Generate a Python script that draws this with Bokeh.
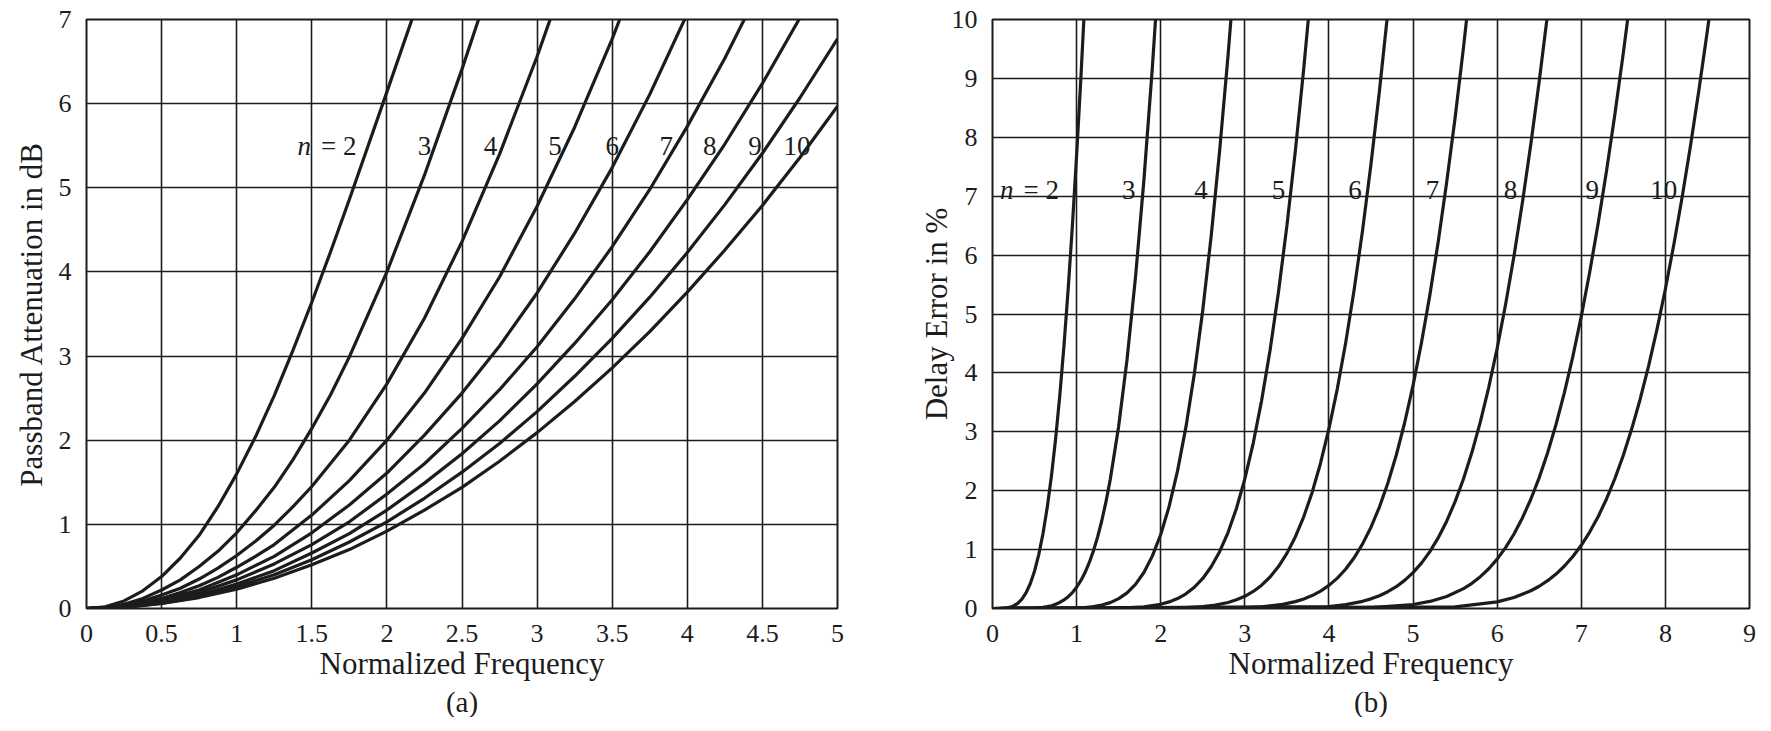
from bokeh.plotting import figure
from bokeh.layouts import row
from bokeh.models import FixedTicker, Title
from bokeh.core.properties import value
from bokeh.embed import file_html
from bokeh.resources import INLINE

FONT = "Liberation Serif"
INK = "#1c1c1c"

# ---------------- (a) Passband attenuation (dB) vs normalized frequency ----------------
att_freq_n2 = [0, 0.125, 0.25, 0.375, 0.5, 0.625, 0.75, 0.875, 1.0, 1.125, 1.25, 1.375, 1.5, 1.625, 1.75, 1.875, 2.0, 2.25]
att_db_n2 = [0, 0.02, 0.09, 0.21, 0.38, 0.60, 0.87, 1.21, 1.60, 2.04, 2.53, 3.07, 3.64, 4.24, 4.86, 5.50, 6.14, 7.43]
att_freq_n3 = [0, 0.125, 0.25, 0.375, 0.5, 0.625, 0.75, 0.875, 1.0, 1.125, 1.25, 1.375, 1.5, 1.625, 1.75, 2.0, 2.25, 2.5, 2.75]
att_db_n3 = [0, 0.01, 0.05, 0.12, 0.22, 0.34, 0.50, 0.68, 0.90, 1.16, 1.44, 1.77, 2.14, 2.54, 2.99, 4.00, 5.15, 6.41, 7.75]
att_freq_n4 = [0, 0.125, 0.25, 0.375, 0.5, 0.625, 0.75, 0.875, 1.0, 1.125, 1.25, 1.375, 1.5, 1.75, 2.0, 2.25, 2.5, 2.75, 3.0, 3.25]
att_db_n4 = [0, 0.01, 0.04, 0.09, 0.16, 0.24, 0.35, 0.48, 0.63, 0.80, 0.99, 1.21, 1.45, 2.00, 2.67, 3.45, 4.36, 5.40, 6.56, 7.83]
att_freq_n5 = [0, 0.25, 0.375, 0.5, 0.625, 0.75, 0.875, 1.0, 1.125, 1.25, 1.5, 1.75, 2.0, 2.25, 2.5, 2.75, 3.0, 3.25, 3.5, 3.75]
att_db_n5 = [0, 0.03, 0.07, 0.12, 0.19, 0.27, 0.37, 0.49, 0.62, 0.76, 1.11, 1.52, 2.00, 2.56, 3.21, 3.94, 4.78, 5.72, 6.77, 7.93]
att_freq_n6 = [0, 0.25, 0.5, 0.75, 1.0, 1.25, 1.5, 1.75, 2.0, 2.25, 2.5, 2.75, 3.0, 3.25, 3.5, 3.75, 4.0, 4.25]
att_db_n6 = [0, 0.02, 0.10, 0.22, 0.40, 0.62, 0.90, 1.23, 1.61, 2.06, 2.56, 3.12, 3.75, 4.46, 5.24, 6.11, 7.07, 8.12]
att_freq_n7 = [0, 0.25, 0.5, 0.75, 1.0, 1.25, 1.5, 1.75, 2.0, 2.25, 2.5, 2.75, 3.0, 3.25, 3.5, 3.75, 4.0, 4.25, 4.5]
att_db_n7 = [0, 0.02, 0.08, 0.19, 0.34, 0.53, 0.76, 1.03, 1.36, 1.72, 2.14, 2.60, 3.11, 3.68, 4.30, 4.98, 5.73, 6.54, 7.43]
att_freq_n8to10 = [0, 0.25, 0.5, 0.75, 1.0, 1.25, 1.5, 1.75, 2.0, 2.25, 2.5, 2.75, 3.0, 3.25, 3.5, 3.75, 4.0, 4.25, 4.5, 4.75, 5.0]
att_db_n8 = [0, 0.02, 0.07, 0.16, 0.29, 0.45, 0.66, 0.89, 1.17, 1.49, 1.84, 2.23, 2.67, 3.15, 3.67, 4.24, 4.86, 5.52, 6.24, 7.02, 7.86]
att_db_n9 = [0, 0.02, 0.06, 0.14, 0.26, 0.40, 0.58, 0.79, 1.03, 1.31, 1.62, 1.96, 2.34, 2.76, 3.21, 3.70, 4.23, 4.80, 5.41, 6.07, 6.77]
att_db_n10 = [0, 0.01, 0.06, 0.13, 0.23, 0.36, 0.52, 0.70, 0.92, 1.17, 1.44, 1.75, 2.09, 2.46, 2.86, 3.29, 3.76, 4.26, 4.79, 5.36, 5.97]

a_xticks = [0, 0.5, 1, 1.5, 2, 2.5, 3, 3.5, 4, 4.5, 5]
a_xtick_labels = ["0", "0.5", "1", "1.5", "2", "2.5", "3", "3.5", "4", "4.5", "5"]
a_yticks = [0, 1, 2, 3, 4, 5, 6, 7]
a_ytick_labels = ["0", "1", "2", "3", "4", "5", "6", "7"]

# ---------------- (b) Delay error (%) vs normalized frequency ----------------
dly_freq_n2 = [0, 0.1, 0.15, 0.2, 0.25, 0.3, 0.35, 0.4, 0.45, 0.5, 0.55, 0.6, 0.65, 0.7, 0.75, 0.8, 0.85, 0.9, 0.95, 1.0, 1.05, 1.1]
dly_err_n2 = [0, 0.001, 0.006, 0.018, 0.043, 0.087, 0.160, 0.269, 0.425, 0.637, 0.915, 1.269, 1.709, 2.242, 2.875, 3.615, 4.466, 5.429, 6.505, 7.692, 8.988, 10.39]
dly_freq_n3 = [0, 0.5, 0.6, 0.65, 0.7, 0.75, 0.8, 0.85, 0.9, 0.95, 1.0, 1.05, 1.1, 1.15, 1.2, 1.25, 1.3, 1.35, 1.4, 1.5, 1.6, 1.7, 1.8, 1.9, 2.0]
dly_err_n3 = [0, 0.007, 0.019, 0.031, 0.047, 0.071, 0.102, 0.145, 0.200, 0.271, 0.361, 0.473, 0.611, 0.778, 0.978, 1.216, 1.494, 1.818, 2.190, 3.095, 4.233, 5.623, 7.271, 9.176, 11.33]
dly_freq_n4 = [0, 1.0, 1.1, 1.2, 1.3, 1.4, 1.5, 1.6, 1.7, 1.8, 1.9, 2.0, 2.1, 2.2, 2.3, 2.4, 2.5, 2.6, 2.7, 2.8, 2.9]
dly_err_n4 = [0, 0.008, 0.016, 0.032, 0.058, 0.100, 0.167, 0.266, 0.410, 0.612, 0.889, 1.256, 1.732, 2.336, 3.083, 3.990, 5.068, 6.325, 7.764, 9.382, 11.17]
dly_freq_n5 = [0, 1.5, 1.8, 2.0, 2.1, 2.2, 2.3, 2.4, 2.5, 2.6, 2.7, 2.8, 2.9, 3.0, 3.1, 3.2, 3.3, 3.4, 3.5, 3.6, 3.7, 3.8]
dly_err_n5 = [0, 0.005, 0.028, 0.072, 0.112, 0.169, 0.250, 0.361, 0.510, 0.708, 0.964, 1.290, 1.698, 2.200, 2.809, 3.534, 4.386, 5.372, 6.496, 7.760, 9.163, 10.70]
dly_freq_n6 = [0, 2.0, 2.25, 2.5, 2.65, 2.8, 2.9, 3.0, 3.1, 3.2, 3.3, 3.4, 3.5, 3.6, 3.7, 3.8, 3.9, 4.0, 4.1, 4.2, 4.3, 4.4, 4.5, 4.6, 4.7]
dly_err_n6 = [0, 0.003, 0.010, 0.031, 0.057, 0.102, 0.147, 0.207, 0.289, 0.396, 0.535, 0.712, 0.936, 1.215, 1.557, 1.971, 2.467, 3.052, 3.734, 4.521, 5.416, 6.424, 7.546, 8.781, 10.13]
dly_freq_n7 = [0, 3.0, 3.2, 3.45, 3.6, 3.7, 3.8, 3.9, 4.0, 4.1, 4.2, 4.3, 4.4, 4.5, 4.6, 4.7, 4.8, 4.9, 5.0, 5.1, 5.2, 5.3, 5.4, 5.5, 5.6, 5.7]
dly_err_n7 = [0, 0.013, 0.028, 0.071, 0.117, 0.162, 0.220, 0.296, 0.393, 0.516, 0.671, 0.862, 1.097, 1.381, 1.722, 2.127, 2.602, 3.154, 3.788, 4.511, 5.325, 6.234, 7.239, 8.333, 9.532, 10.82]
dly_freq_n8 = [0, 4.0, 4.2, 4.4, 4.5, 4.6, 4.7, 4.8, 4.9, 5.0, 5.1, 5.2, 5.3, 5.4, 5.5, 5.6, 5.7, 5.8, 5.9, 6.0, 6.1, 6.2, 6.3, 6.4, 6.5, 6.6]
dly_err_n8 = [0, 0.034, 0.066, 0.122, 0.164, 0.217, 0.285, 0.370, 0.477, 0.609, 0.770, 0.966, 1.202, 1.483, 1.814, 2.202, 2.651, 3.168, 3.756, 4.419, 5.162, 5.986, 6.892, 7.881, 8.951, 10.10]
dly_freq_n9 = [0, 4.5, 5.0, 5.2, 5.4, 5.6, 5.7, 5.8, 5.9, 6.0, 6.1, 6.2, 6.3, 6.4, 6.5, 6.6, 6.7, 6.8, 6.9, 7.0, 7.1, 7.2, 7.3, 7.4, 7.5, 7.6]
dly_err_n9 = [0, 0.014, 0.068, 0.120, 0.204, 0.337, 0.428, 0.540, 0.675, 0.839, 1.034, 1.265, 1.538, 1.855, 2.222, 2.645, 3.126, 3.670, 4.280, 4.960, 5.710, 6.533, 7.428, 8.395, 9.433, 10.54]
dly_freq_n10 = [0, 5.5, 6.0, 6.2, 6.4, 6.5, 6.6, 6.7, 6.8, 6.9, 7.0, 7.1, 7.2, 7.3, 7.4, 7.5, 7.6, 7.7, 7.8, 7.9, 8.0, 8.1, 8.2, 8.3, 8.4, 8.5, 8.6]
dly_err_n10 = [0, 0.028, 0.112, 0.187, 0.301, 0.378, 0.472, 0.585, 0.721, 0.883, 1.073, 1.297, 1.558, 1.860, 2.207, 2.602, 3.050, 3.553, 4.115, 4.738, 5.425, 6.175, 6.991, 7.870, 8.814, 9.819, 10.88]

b_xticks = [0, 1, 2, 3, 4, 5, 6, 7, 8, 9]
b_xtick_labels = ["0", "1", "2", "3", "4", "5", "6", "7", "8", "9"]
b_yticks = [0, 1, 2, 3, 4, 5, 6, 7, 8, 9, 10]
b_ytick_labels = ["0", "1", "2", "3", "4", "5", "6", "7", "8", "9", "10"]

# curve order labels
order_labels = ["3", "4", "5", "6", "7", "8", "9", "10"]
# label anchor positions (layout, not data)
a_label_x = [2.25, 2.69, 3.12, 3.50, 3.86, 4.15, 4.45, 4.73]
a_label_y = 5.5
a_n_x, a_eq_x = 1.45, 1.68
b_label_x = [1.62, 2.48, 3.40, 4.31, 5.23, 6.16, 7.13, 7.98]
b_label_y = 7.11
b_n_x, b_eq_x = 0.17, 0.58


def make_panel(xr, yr, fw, left, right, ylabel, ystand, xticks, xlabels, yticks, ylabels, tag):
    p = figure(x_range=xr, y_range=yr, frame_width=fw, frame_height=589,
               min_border_left=left, min_border_right=right, min_border_top=19,
               min_border_bottom=10, output_backend="svg", toolbar_location=None)
    p.title.visible = False
    p.background_fill_color = "white"
    p.border_fill_color = "white"
    p.outline_line_color = INK
    p.outline_line_width = 2
    p.xaxis.ticker = FixedTicker(ticks=xticks)
    p.yaxis.ticker = FixedTicker(ticks=yticks)
    p.xgrid.ticker = FixedTicker(ticks=xticks)
    p.ygrid.ticker = FixedTicker(ticks=yticks)
    p.xaxis.major_label_overrides = dict(zip(xticks, xlabels))
    p.yaxis.major_label_overrides = dict(zip(yticks, ylabels))
    p.grid.grid_line_color = INK
    p.grid.grid_line_width = 1.6
    p.axis.axis_line_color = None
    p.axis.major_tick_line_color = None
    p.axis.minor_tick_line_color = None
    p.axis.major_label_text_font = FONT
    p.axis.major_label_text_font_size = "26px"
    p.axis.major_label_text_color = INK
    p.xaxis.major_label_standoff = 10
    p.yaxis.major_label_standoff = 9
    p.axis.axis_label_text_font = FONT
    p.axis.axis_label_text_font_style = "normal"
    p.axis.axis_label_text_color = INK
    p.xaxis.axis_label = "Normalized Frequency"
    p.xaxis.axis_label_text_font_size = "31px"
    p.xaxis.axis_label_standoff = 1
    p.yaxis.axis_label = ylabel
    p.yaxis.axis_label_text_font_size = "31px"
    p.yaxis.axis_label_standoff = ystand
    p.add_layout(Title(text=tag, align="center", text_font=FONT, text_font_size="29px",
                       text_font_style="normal", text_color=INK, standoff=0), "below")
    return p


def add_labels(p, xs, y, nx, eqx):
    p.text(x=xs, y=[y] * len(xs), text=order_labels, text_font=value(FONT),
           text_font_size=value("27px"), text_color=INK, text_align="center",
           text_baseline="alphabetic")
    p.text(x=[nx], y=[y], text=["n"], text_font=value(FONT), text_font_style="italic",
           text_font_size=value("27px"), text_color=INK, text_align="center",
           text_baseline="alphabetic")
    p.text(x=[eqx], y=[y], text=["= 2"], text_font=value(FONT),
           text_font_size=value("27px"), text_color=INK, text_align="center",
           text_baseline="alphabetic")


pa = make_panel((0, 5), (0, 7), 751, 86, 65, "Passband Attenuation in dB", 7,
                a_xticks, a_xtick_labels, a_yticks, a_ytick_labels, "(a)")
for xs, ys in [(att_freq_n2, att_db_n2), (att_freq_n3, att_db_n3), (att_freq_n4, att_db_n4),
               (att_freq_n5, att_db_n5), (att_freq_n6, att_db_n6), (att_freq_n7, att_db_n7),
               (att_freq_n8to10, att_db_n8), (att_freq_n8to10, att_db_n9),
               (att_freq_n8to10, att_db_n10)]:
    pa.line(xs, ys, line_color=INK, line_width=3.2, line_join="round")
add_labels(pa, a_label_x, a_label_y, a_n_x, a_eq_x)

pb = make_panel((0, 9), (0, 10), 757, 90, 14, "Delay Error in %", -5,
                b_xticks, b_xtick_labels, b_yticks, b_ytick_labels, "(b)")
for xs, ys in [(dly_freq_n2, dly_err_n2), (dly_freq_n3, dly_err_n3), (dly_freq_n4, dly_err_n4),
               (dly_freq_n5, dly_err_n5), (dly_freq_n6, dly_err_n6), (dly_freq_n7, dly_err_n7),
               (dly_freq_n8, dly_err_n8), (dly_freq_n9, dly_err_n9),
               (dly_freq_n10, dly_err_n10)]:
    pb.line(xs, ys, line_color=INK, line_width=3.2, line_join="round")
add_labels(pb, b_label_x, b_label_y, b_n_x, b_eq_x)

layout = row(pa, pb)
open("out.html", "w").write(file_html(layout, INLINE))
